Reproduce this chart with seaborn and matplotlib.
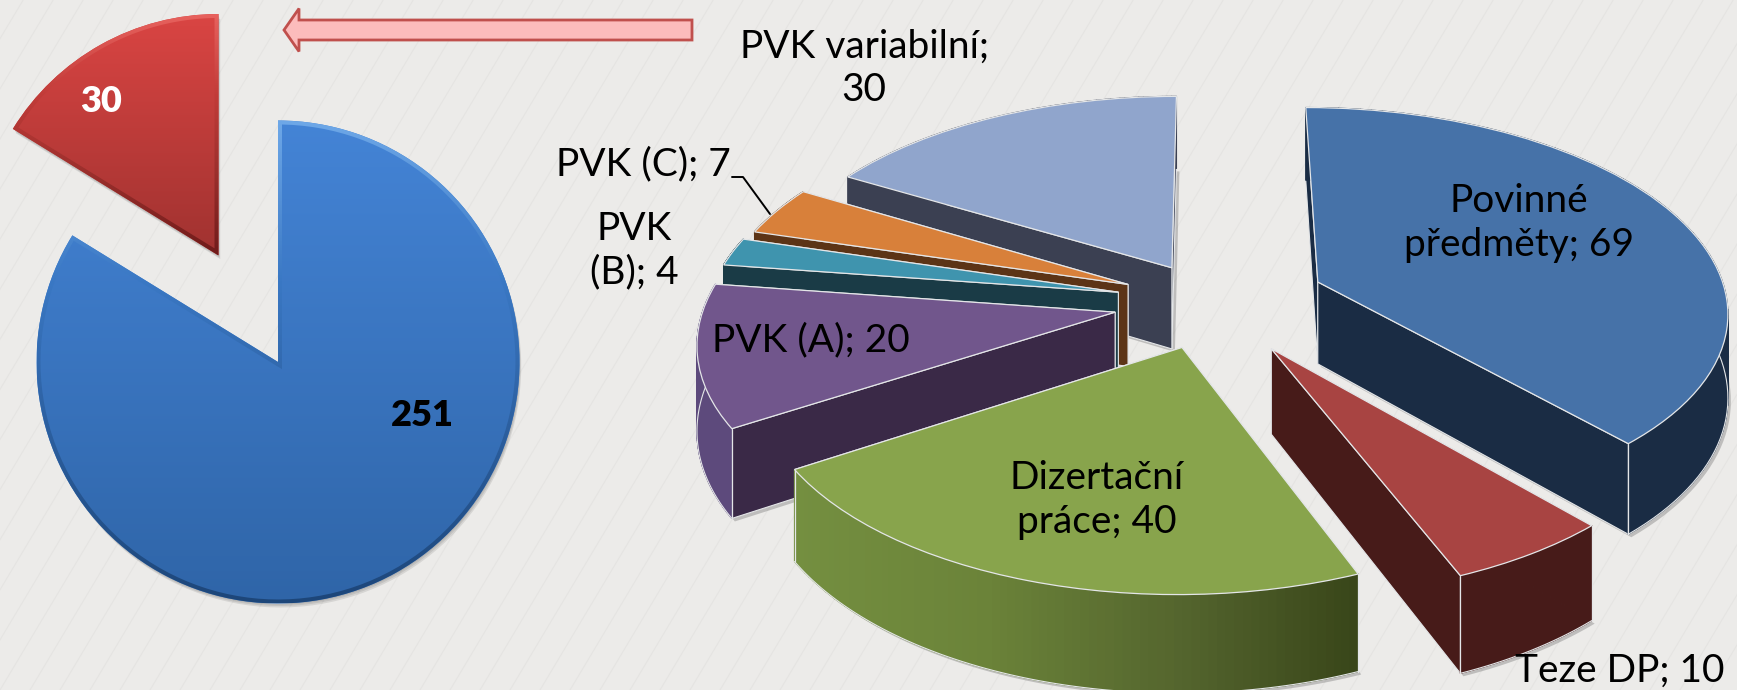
import numpy as np
import seaborn as sns
import matplotlib
matplotlib.use('Agg')
import matplotlib.pyplot as plt
from matplotlib.collections import PolyCollection
from matplotlib.patches import Polygon
from matplotlib.transforms import Transform

# Data
left_sizes = [155, 30]
left_labels = ['251', '30']
right_names = ['Povinné\npředměty', 'Teze DP', 'Dizertační\npráce', 'PVK (A)',
               'PVK\n(B)', 'PVK (C)', 'PVK variabilní']
right_values = [69, 10, 40, 20, 4, 7, 30]

# Styles
right_explode = [0.28, 0.265, 0.23, 0.24, 0.235, 0.225, 0.20]
top_colors = ['#4672a8', '#a84442', '#88a44c', '#71568c', '#3f94ae', '#d8803a', '#90a5cc']
side_colors = ['#1a2c44', '#471b19', '#748f40', '#3a2947', '#1a3b46', '#5c3416', '#3b4052']
rim_colors = ['#1a2c44', '#471b19', None, '#5d4a7c', '#1a3b46', '#5c3416', '#3b4052']
draw_order = [4, 5, 6, 3, 2, 1, 0]

W, H = 1737, 690
sns.set_theme(style='white')
plt.rcParams['font.family'] = ['Lato', 'DejaVu Sans']
BG = '#ecebe9'

fig = plt.figure(figsize=(W / 100, H / 100), dpi=100, facecolor=BG)
ax = fig.add_axes([0, 0, 1, 1])

# perspective for the right pie
CX, CY, SX, SY, K, DEPTH = 1212, 302, 410, 202, 0.13, 83


def project(u, v, z=0.0):
    u, v = np.asarray(u, float), np.asarray(v, float)
    w = 1 + K * v
    return CX + SX * u / w, H - (CY + (-SY * v + DEPTH * z) / w)


class Perspective(Transform):
    input_dims = 2
    output_dims = 2

    def transform_non_affine(self, values):
        values = np.asarray(values)
        x, y = project(values[:, 0], values[:, 1])
        return np.column_stack([x, y])


# left pie
def inner_shape(w, inset):
    # wedge shrunk by the bevel width
    t1, t2 = w.theta1, w.theta2
    r = w.r - inset
    delta = np.degrees(np.arcsin(inset / r))
    th = np.radians(np.linspace(t1 + delta, t2 - delta, 120))
    half = np.radians((t2 - t1) / 2)
    mid = np.radians((t1 + t2) / 2)
    d = inset / np.sin(half)
    cx, cy = w.center
    pts = np.column_stack([cx + r * np.cos(th), cy + r * np.sin(th)])
    apex = [cx + d * np.cos(mid), cy + d * np.sin(mid)]
    return np.vstack([apex, pts])


def gradient(patch, colors, box, z):
    cmap = sns.blend_palette(colors, as_cmap=True)
    im = ax.imshow(np.linspace(0, 1, 256)[:, None], cmap=cmap, extent=box,
                   aspect='auto', origin='upper', zorder=z)
    im.set_clip_path(patch)


left_wedges, _ = ax.pie(left_sizes, center=(278, H - 362), radius=241.5, startangle=90,
                        counterclock=False, explode=[0, 122], frame=True,
                        colors=['#3f7fd0', '#c83c3a'])
left_rim = [['#6ea8e8', '#3a78c4', '#2b5d9c', '#1d4679'], ['#e8625e', '#c23c39', '#9a2f2c', '#6f1b1a']]
left_body = [['#4484d6', '#2f65a8'], ['#da4543', '#a03230']]
for w, rim, body in zip(left_wedges, left_rim, left_body):
    w.set_zorder(2)
    w.set_edgecolor('none')
    # soft shadow under the slice
    for off in (1.5, 3, 4.5):
        ax.add_patch(Polygon(inner_shape(w, 0.5) + [off / 2, -off], closed=True, fc='#444444',
                             ec='none', alpha=0.13, zorder=1))
    cy = w.center[1]
    x0, x1 = w.center[0] - w.r, w.center[0] + w.r
    box = (x0, x1, cy - w.r, cy + w.r)
    if w is left_wedges[1]:
        box = (x0, x1, cy, cy + w.r)
    gradient(w, rim, box, 3)
    inner = Polygon(inner_shape(w, 4), closed=True, fc='none', ec='none', zorder=4)
    ax.add_patch(inner)
    gradient(inner, body, box, 4)

# right pie
right_wedges, _ = ax.pie(right_values, startangle=90, counterclock=False,
                         explode=right_explode, colors=top_colors, frame=True)
perspective = Perspective() + ax.transData
EDGE = '#e4e6e8'
for i, w in enumerate(right_wedges):
    base = 10 + 10 * draw_order[i]
    cx, cy = w.center
    th = np.radians(np.linspace(w.theta1, w.theta2, 80))
    u = cx + w.r * np.cos(th)
    v = cy + w.r * np.sin(th)
    xt, yt = project(u, v, 0)
    xb, yb = project(u, v, 1)
    ax0, ay0 = project(cx, cy, 0)
    ax1, ay1 = project(cx, cy, 1)

    # shadow
    sil = np.vstack([[[ax1, ay1]], np.column_stack([xb, yb]), [[ax1, ay1]]])
    ax.add_patch(Polygon(sil + [3, -3], closed=True, fc='#555555', ec='none', alpha=0.3, zorder=base))

    # radial faces, far one first
    faces = [(xt[0], yt[0], xb[0], yb[0], v[0]), (xt[-1], yt[-1], xb[-1], yb[-1], v[-1])]
    faces.sort(key=lambda f: -f[4])
    for x_t, y_t, x_b, y_b, _ in faces:
        ax.add_patch(Polygon([[ax0, ay0], [x_t, y_t], [x_b, y_b], [ax1, ay1]], closed=True,
                             fc=side_colors[i], ec=EDGE, lw=0.8, zorder=base + 1))

    # outer rim
    quads = [[[xt[j], yt[j]], [xt[j + 1], yt[j + 1]], [xb[j + 1], yb[j + 1]], [xb[j], yb[j]]]
             for j in range(len(th) - 1)]
    if rim_colors[i] is None:
        ramp = sns.blend_palette(['#748f40', '#6b8339', '#55662e', '#384519'], as_cmap=True)
        pos = (xt[:-1] - xt.min()) / (xt.max() - xt.min())
        cols = [ramp(p) for p in pos]
    else:
        cols = [rim_colors[i]] * len(quads)
    ax.add_collection(PolyCollection(quads, facecolors=cols, edgecolors=cols, linewidths=0.9,
                                     zorder=base + 2))
    # only the part of the rim that faces the viewer gets edge lines
    front = np.sin(th) < 0.05
    ax.plot(np.where(front, xb, np.nan), yb, color=EDGE, lw=0.8, zorder=base + 2)
    for j in (0, -1):
        if front[j]:
            ax.plot([xt[j], xb[j]], [yt[j], yb[j]], color=EDGE, lw=0.9, zorder=base + 2)

    # top surface from the pie wedge itself
    w.set_transform(perspective)
    w.set_edgecolor(EDGE)
    w.set_linewidth(0.9)
    w.set_zorder(base + 3)

# arrow
ax.arrow(692, H - 30, -393, 0, width=20, head_width=43, head_length=15, length_includes_head=False,
         fc='#fcbcbc', ec='#c0504d', lw=2, zorder=5)

# labels
FS = 28
ax.text(101, H - 101, left_labels[1], color='white', fontsize=26, fontweight='heavy', ha='center', va='center', zorder=9)
ax.text(422, H - 415, left_labels[0], color='black', fontsize=26, fontweight='heavy', ha='center', va='center', zorder=9)
label_pos = [(1519, 223), (1620, 671), (1097, 500), (811, 340), (634, 251), (643, 164), (864, 68)]
label_text = [f'{n}; {v}' for n, v in zip(right_names, right_values)]
label_text[6] = f'{right_names[6]};\n{right_values[6]}'
for (x, y), t in zip(label_pos, label_text):
    ax.text(x, H - y, t, color='black', fontsize=FS, ha='center', va='center', linespacing=1.25, zorder=200)

# leader line of PVK (C)
ax.plot([732, 743, 770], [H - 177, H - 177, H - 214], color='black', lw=1.4, zorder=199)

# background stripes
for x0 in range(-420, W + 60, 30):
    ax.plot([x0, x0 + H / 1.67], [0, H], color='#e5e4e2', lw=0.8, zorder=0)

ax.set_xlim(0, W)
ax.set_ylim(0, H)
ax.set_aspect('auto')
ax.set_facecolor(BG)
ax.set_xticks([])
ax.set_yticks([])
for s in ax.spines.values():
    s.set_visible(False)

fig.savefig('out.png', dpi=100, facecolor=BG)
